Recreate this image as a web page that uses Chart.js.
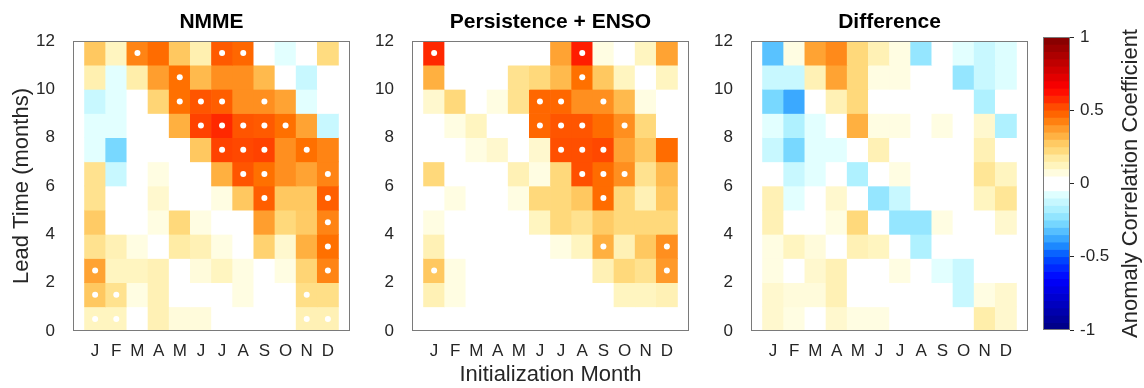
<!DOCTYPE html>
<html>
<head>
<meta charset="utf-8">
<script src="https://cdn.jsdelivr.net/npm/chart.js@4.4.1/dist/chart.umd.min.js"></script>
<style>
  body { margin: 0; background: #fff; }
  #wrap { position: relative; width: 1144px; height: 388px; overflow: hidden; }
  #wrap canvas { position: absolute; top: 0; }
</style>
</head>
<body>
<div id="wrap">
  <canvas id="nmme" width="358" height="388" style="left:0px"></canvas>
  <canvas id="pers" width="357" height="388" style="left:340px"></canvas>
  <canvas id="diff" width="356" height="388" style="left:680px"></canvas>
  <canvas id="cbar" width="144" height="388" style="left:1000px"></canvas>
</div>
<script>
// initialization months (x) and lead times (y)
const monthLetters = ['J', 'F', 'M', 'A', 'M', 'J', 'J', 'A', 'S', 'O', 'N', 'D'];
const leadTicks = [0, 2, 4, 6, 8, 10, 12];
const cbTicks = [-1, -0.5, 0, 0.5, 1];

// anomaly correlation; one row per lead (0..11), columns Jan..Dec
const nmmeAcc = [
  [0.12, 0.12, 0, 0.14, 0.08, 0.08, 0, 0, 0, 0, 0.14, 0.14],
  [0.28, 0.20, 0.07, 0.14, 0, 0, 0, 0.07, 0, 0, 0.21, 0.21],
  [0.36, 0.12, 0.12, 0.14, 0, 0.08, 0.12, 0.07, 0, 0.07, 0.24, 0.42],
  [0.20, 0.14, 0.07, 0, 0.17, 0.14, 0.07, 0, 0.25, 0.10, 0.33, 0.45],
  [0.27, 0, 0, 0.07, 0.23, 0.07, 0, 0, 0.37, 0.23, 0.27, 0.42],
  [0.20, 0, 0, 0.10, 0, 0, 0.07, 0.28, 0.49, 0.28, 0.28, 0.49],
  [0.20, -0.12, 0, 0.07, 0, 0, 0.33, 0.51, 0.45, 0.40, 0.36, 0.42],
  [-0.07, -0.27, 0, 0, 0, 0.28, 0.54, 0.53, 0.54, 0.40, 0.45, 0.42],
  [-0.07, -0.07, 0, 0, 0.33, 0.54, 0.58, 0.51, 0.50, 0.45, 0.36, -0.12],
  [-0.12, -0.07, 0, 0.24, 0.45, 0.51, 0.49, 0.40, 0.40, 0.36, -0.07, 0],
  [0.15, -0.07, 0.16, 0.37, 0.45, 0.31, 0.40, 0.40, 0.31, 0, -0.12, 0],
  [0.28, 0.12, 0.42, 0.46, 0.28, 0.15, 0.50, 0.47, 0, -0.07, 0, 0.22]
];

const persAcc = [
  [0, 0, 0, 0, 0, 0, 0, 0, 0, 0, 0, 0],
  [0.14, 0.07, 0, 0, 0, 0, 0, 0, 0, 0.12, 0.12, 0.14],
  [0.28, 0.07, 0, 0, 0, 0, 0, 0, 0.14, 0.23, 0.20, 0.38],
  [0.14, 0, 0, 0, 0, 0, 0.07, 0.12, 0.33, 0.14, 0.28, 0.40],
  [0.07, 0, 0, 0, 0, 0.12, 0.23, 0.20, 0.27, 0.23, 0.23, 0.23],
  [0, 0.07, 0, 0, 0.07, 0.23, 0.23, 0.28, 0.46, 0.23, 0.14, 0.28],
  [0.23, 0, 0, 0, 0.14, 0.07, 0.23, 0.52, 0.46, 0.40, 0.20, 0.31],
  [0, 0, 0.07, 0.10, 0, 0.10, 0.52, 0.52, 0.53, 0.36, 0.28, 0.46],
  [0, 0.07, 0.12, 0, 0, 0.47, 0.51, 0.51, 0.46, 0.40, 0.23, 0],
  [0.10, 0.23, 0, 0.07, 0.20, 0.47, 0.47, 0.40, 0.40, 0.31, 0.07, 0],
  [0.33, 0, 0, 0, 0.20, 0.23, 0.31, 0.45, 0.28, 0.12, 0, 0.12],
  [0.58, 0, 0, 0, 0, 0, 0.36, 0.60, 0.07, 0, 0.12, 0.36]
];

const diffAcc = [
  [0.10, 0.07, 0, 0.10, 0.07, 0.07, 0, 0, 0, 0, 0.16, 0.10],
  [0.10, 0.08, 0.08, 0.14, 0, 0, 0, 0, 0, -0.12, 0.07, 0.10],
  [0.07, 0, 0.10, 0.14, 0, 0, 0.07, 0, -0.07, -0.12, 0, 0],
  [0.07, 0.12, 0.08, 0, 0.14, 0.12, 0, -0.17, 0, 0, 0, 0],
  [0.14, 0, 0, 0.07, 0.23, 0, -0.22, -0.22, 0.07, 0, 0, 0.10],
  [0.14, -0.07, 0, 0.10, 0, -0.22, -0.12, 0, 0, 0, 0.12, 0.19],
  [0, -0.12, -0.07, 0, -0.17, 0, 0.07, 0, 0, 0, 0.19, 0.12],
  [-0.12, -0.27, -0.07, -0.07, 0, 0.14, 0, 0, 0, 0, 0.14, 0],
  [-0.07, -0.17, -0.07, 0, 0.33, 0.07, 0.07, 0, 0.07, 0, 0.10, -0.17],
  [-0.27, -0.37, 0, 0.14, 0.23, 0, 0, 0, 0, 0, -0.17, 0],
  [-0.12, -0.12, 0.14, 0.36, 0.23, 0.07, 0.07, 0, 0, -0.22, -0.12, -0.08],
  [-0.32, 0.07, 0.36, 0.41, 0.23, 0.14, 0.07, -0.22, 0, -0.07, -0.12, -0.08]
];

// significant correlations, [month index, lead]
const nmmeSig = [
  [0, 0], [1, 0], [10, 0], [11, 0],
  [0, 1], [1, 1], [10, 1],
  [0, 2], [11, 2],
  [11, 3],
  [11, 4],
  [8, 5], [11, 5],
  [7, 6], [8, 6], [11, 6],
  [6, 7], [7, 7], [8, 7], [10, 7],
  [5, 8], [6, 8], [7, 8], [8, 8], [9, 8],
  [4, 9], [5, 9], [6, 9], [8, 9],
  [4, 10],
  [2, 11], [6, 11], [7, 11]
];

const persSig = [
  [0, 2], [11, 2],
  [8, 3], [11, 3],
  [8, 5],
  [7, 6], [8, 6], [9, 6],
  [6, 7], [7, 7], [8, 7],
  [5, 8], [6, 8], [7, 8], [9, 8],
  [5, 9], [6, 9], [8, 9],
  [7, 10],
  [0, 11], [7, 11]
];

const FONT = "'Liberation Sans', Arial, Helvetica, sans-serif";
const INK = '#262626';

// diverging colour map: blue - white - yellow - orange - red
const mapStops = [
  [-1.00, [0, 0, 128]], [-0.80, [0, 0, 200]], [-0.65, [0, 0, 255]],
  [-0.50, [0, 80, 255]], [-0.42, [30, 140, 255]], [-0.35, [70, 180, 255]],
  [-0.27, [120, 216, 255]], [-0.20, [160, 236, 255]], [-0.12, [200, 248, 255]],
  [-0.07, [226, 255, 255]], [-0.05, [255, 255, 255]], [0.05, [255, 255, 255]],
  [0.07, [255, 253, 226]], [0.12, [255, 245, 192]], [0.17, [255, 236, 165]],
  [0.22, [255, 220, 128]], [0.28, [255, 200, 96]], [0.33, [255, 176, 64]],
  [0.37, [255, 158, 46]], [0.41, [255, 138, 26]], [0.45, [255, 112, 0]],
  [0.51, [255, 85, 0]], [0.58, [255, 40, 0]], [0.65, [255, 0, 0]],
  [0.80, [200, 0, 0]], [1.00, [128, 0, 0]]
];

function accColor(v) {
  if (v <= mapStops[0][0]) return 'rgb(' + mapStops[0][1].join(',') + ')';
  for (let i = 1; i < mapStops.length; i++) {
    const [v1, c1] = mapStops[i];
    if (v <= v1) {
      const [v0, c0] = mapStops[i - 1];
      const t = (v - v0) / (v1 - v0);
      const c = c0.map((a, k) => Math.round(a + (c1[k] - a) * t));
      return 'rgb(' + c.join(',') + ')';
    }
  }
  return 'rgb(' + mapStops[mapStops.length - 1][1].join(',') + ')';
}

// box round the plot area
const frame = {
  id: 'frame',
  afterDraw(chart) {
    const a = chart.chartArea, ctx = chart.ctx;
    ctx.save();
    ctx.strokeStyle = '#7a7a7a';
    ctx.lineWidth = 1;
    ctx.strokeRect(Math.round(a.left) + 0.5, Math.round(a.top) + 0.5,
      Math.round(a.right - a.left) - 1, Math.round(a.bottom - a.top) - 1);
    ctx.restore();
  }
};

function panel(id, title, grid, sig, yWidth, leadTitle, monthTitle) {
  const cells = [], colors = [];
  grid.forEach((row, lead) => row.forEach((v, m) => {
    cells.push({ x: m, y: [lead, lead + 1] });
    colors.push(accColor(v));
  }));
  const dots = sig.map(([m, lead]) => ({ x: m, y: lead + 0.5 }));

  return new Chart(document.getElementById(id), {
    type: 'bar',
    data: {
      datasets: [
        { type: 'scatter', data: dots, order: 0, pointRadius: 3, pointHoverRadius: 3,
          backgroundColor: '#fff', borderWidth: 0 },
        { data: cells, order: 1, backgroundColor: colors, borderWidth: 0,
          barPercentage: 1, categoryPercentage: 1, grouped: false }
      ]
    },
    options: {
      responsive: false,
      animation: false,
      events: [],
      layout: { padding: { top: 0, right: 8, bottom: 0, left: 0 } },
      plugins: {
        legend: { display: false },
        tooltip: { enabled: false },
        title: {
          display: true, text: title, fullSize: false, color: '#000',
          font: { family: FONT, size: 21, weight: 'bold' },
          padding: { top: 10, bottom: 5.8 }
        }
      },
      scales: {
        x: {
          type: 'linear', min: -0.5, max: 11.5,
          grid: { display: false }, border: { display: false },
          afterBuildTicks: (s) => { s.ticks = monthLetters.map((_, i) => ({ value: i })); },
          afterFit: (s) => { s.height = 57; },
          ticks: {
            autoSkip: false, maxRotation: 0, padding: 2, color: INK,
            font: { family: FONT, size: 17 },
            callback: (v) => monthLetters[v]
          },
          title: {
            display: monthTitle, text: 'Initialization Month', color: INK,
            font: { family: FONT, size: 22 }, padding: { top: 0, bottom: 0 }
          }
        },
        y: {
          type: 'linear', min: 0, max: 12,
          grid: { display: false }, border: { display: false },
          afterBuildTicks: (s) => { s.ticks = leadTicks.map((v) => ({ value: v })); },
          afterFit: (s) => { s.width = yWidth; },
          ticks: { padding: 10, color: INK, font: { family: FONT, size: 17 } },
          title: {
            display: leadTitle, text: 'Lead Time (months)', color: INK,
            font: { family: FONT, size: 22 }, padding: { top: 9, bottom: 0 }
          }
        }
      }
    },
    plugins: [frame]
  });
}

panel('nmme', 'NMME', nmmeAcc, nmmeSig, 73, true, false);
panel('pers', 'Persistence + ENSO', persAcc, persSig, 72, false, true);
panel('diff', 'Difference', diffAcc, [], 71, false, false);

// colour bar, drawn as 40 stacked bands
const bands = [], bandColors = [];
for (let k = 0; k < 40; k++) {
  const lo = -1 + k * 0.05;
  bands.push({ x: 'acc', y: [lo, lo + 0.05] });
  bandColors.push(accColor(lo + 0.025));
}

const cbLabel = {
  id: 'cbLabel',
  afterDraw(chart) {
    const a = chart.chartArea, ctx = chart.ctx;
    ctx.save();
    ctx.translate(131, (a.top + a.bottom) / 2);
    ctx.rotate(-Math.PI / 2);
    ctx.font = '22px ' + FONT;
    ctx.fillStyle = INK;
    ctx.textAlign = 'center';
    ctx.textBaseline = 'middle';
    ctx.fillText('Anomaly Correlation Coefficient', 0, 0);
    ctx.restore();
  }
};

new Chart(document.getElementById('cbar'), {
  type: 'bar',
  data: {
    labels: ['acc'],
    datasets: [{ data: bands, backgroundColor: bandColors, borderWidth: 0,
      barPercentage: 1, categoryPercentage: 1, grouped: false }]
  },
  options: {
    responsive: false,
    animation: false,
    events: [],
    layout: { padding: { top: 37, right: 0, bottom: 58, left: 43 } },
    plugins: { legend: { display: false }, tooltip: { enabled: false } },
    scales: {
      x: { display: false },
      y: {
        position: 'right', min: -1, max: 1,
        border: { display: false },
        grid: { drawOnChartArea: false, drawTicks: true, tickLength: 4, color: INK },
        afterBuildTicks: (s) => { s.ticks = cbTicks.map((v) => ({ value: v })); },
        afterFit: (s) => { s.width = 74; },
        ticks: { padding: 6, color: INK, font: { family: FONT, size: 17 },
          callback: (v) => String(v) }
      }
    }
  },
  plugins: [frame, cbLabel]
});
</script>
</body>
</html>
